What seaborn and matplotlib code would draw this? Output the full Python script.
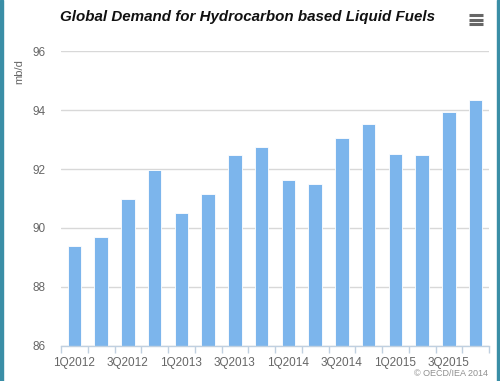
import matplotlib
matplotlib.use("Agg")
import matplotlib.pyplot as plt
from matplotlib.lines import Line2D
from matplotlib.patches import Rectangle
import numpy as np
import pandas as pd
import seaborn as sns

# Data (mb/d)
quarters = ["1Q2012", "2Q2012", "3Q2012", "4Q2012",
            "1Q2013", "2Q2013", "3Q2013", "4Q2013",
            "1Q2014", "2Q2014", "3Q2014", "4Q2014",
            "1Q2015", "2Q2015", "3Q2015", "4Q2015"]
demand = [89.38, 89.70, 90.97, 91.95,
          90.51, 91.15, 92.46, 92.73,
          91.63, 91.50, 93.06, 93.51,
          92.50, 92.46, 93.92, 94.33]
y_ticks = [86, 88, 90, 92, 94, 96]

df = pd.DataFrame({"quarter": quarters, "demand": demand})

sns.set_theme(style="white")
plt.rcParams["font.family"] = ["Liberation Sans", "DejaVu Sans"]

fig = plt.figure(figsize=(5.0, 3.81), dpi=100)
ax = fig.add_axes([0.122, 0.092, 0.856, 0.774])

sns.barplot(data=df, x="quarter", y="demand", color="#7cb5ec", saturation=1,
            width=0.5, edgecolor="white", linewidth=0.6, ax=ax)

ax.set_ylim(86, 96)
ax.set_xlim(-0.5, len(quarters) - 0.5)
ax.set_yticks(y_ticks)
ax.set_yticklabels([str(t) for t in y_ticks], color="#666666", fontsize=8.5)
ax.yaxis.grid(True, color="#d8d8d8", linewidth=1)
ax.set_axisbelow(True)
ax.yaxis.set_tick_params(which="major", length=0, pad=11)

# labels on every other quarter, tick marks between categories
ax.set_xticks(range(0, len(quarters), 2))
ax.set_xticklabels(quarters[::2], color="#666666", fontsize=8.5)
ax.set_xticks(np.arange(-0.5, len(quarters), 1), minor=True)
ax.tick_params(axis="x", which="major", length=0, pad=8)
ax.tick_params(axis="x", which="minor", length=5, width=1, color="#c0d0e0",
               bottom=True)
ax.set_xlabel("")
ax.set_ylabel("mb/d", color="#666666", fontsize=8)
ax.yaxis.set_label_coords(-0.086, 0.93)

for side in ["top", "right", "left"]:
    ax.spines[side].set_visible(False)
ax.spines["bottom"].set_color("#c0d0e0")
ax.spines["bottom"].set_linewidth(1)

fig.text(0.494, 0.955, "Global Demand for Hydrocarbon based Liquid Fuels",
         ha="center", va="center", fontsize=10.9, fontweight="bold",
         fontstyle="italic", color="#111111")
fig.text(0.975, 0.008, "\u00a9 OECD/IEA 2014", ha="right", va="bottom",
         fontsize=6.5, color="#909090")

# menu icon
for yy in [0.936, 0.948, 0.960]:
    fig.add_artist(Line2D([0.937, 0.965], [yy, yy], color="#666666",
                          linewidth=2.2, solid_capstyle="butt"))

# teal frame edges
fig.add_artist(Rectangle((0, 0), 0.005, 1, transform=fig.transFigure,
                         color="#3a8ea6", zorder=10))
fig.add_artist(Rectangle((0.994, 0), 0.006, 1, transform=fig.transFigure,
                         color="#3a8ea6", zorder=10))

fig.savefig("out.png", dpi=100)
